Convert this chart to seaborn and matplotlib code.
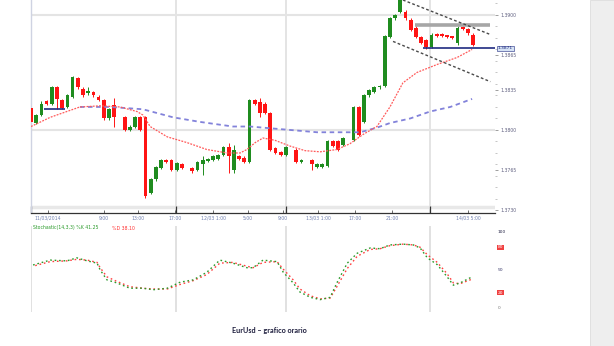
import numpy as np
import pandas as pd
import matplotlib
matplotlib.use('Agg')
import matplotlib.pyplot as plt
from matplotlib.patches import Rectangle
import seaborn as sns


# ── Data (hourly EurUsd candles, slot index = hour) ───────────────────────────

hours = [0, 1, 2, 3, 4, 5, 6, 7, 8, 9, 10, 11, 12, 13, 14, 15, 16,
         18, 19, 20, 21, 22, 23, 24, 25, 26, 27, 28, 29,
         31, 32, 33, 34, 35, 36, 37, 38, 39, 40, 41, 42, 43, 44, 45, 46, 47, 48, 49,
         51, 52, 54, 55, 56, 57, 58, 59, 60,
         62, 63, 64, 65, 66, 67, 68, 69, 70, 71, 72, 73, 74, 75, 76, 77, 78, 79,
         80, 81, 82, 83, 84, 85]

open_ = [1.3819, 1.3806, 1.3813, 1.3825, 1.3823, 1.3837, 1.3826, 1.3820, 1.3829, 1.3845,
         1.3836, 1.3832, 1.3833, 1.3829, 1.3826, 1.3810, 1.3822, 1.3811, 1.3800, 1.3803,
         1.3811, 1.3811, 1.3745, 1.3757, 1.3767, 1.3774, 1.3774, 1.3765, 1.3770, 1.3767,
         1.3765, 1.3770, 1.3773, 1.3774, 1.3775, 1.3778, 1.3785, 1.3765, 1.3777, 1.3776,
         1.3772, 1.3826, 1.3824, 1.3823, 1.3815, 1.3784, 1.3781, 1.3778, 1.3783, 1.3772,
         1.3774, 1.3768, 1.3768, 1.3769, 1.3790, 1.3790, 1.3787, 1.3791, 1.3820, 1.3807,
         1.3830, 1.3833, 1.3837, 1.3838, 1.3881, 1.3897, 1.3903, 1.3903, 1.3896, 1.3889,
         1.3881, 1.3878, 1.3872, 1.3883, 1.3883, 1.3882, 1.3881, 1.3876, 1.3889, 1.3888,
         1.3883]

close = [1.3807, 1.3813, 1.3823, 1.3823, 1.3837, 1.3827, 1.3819, 1.3830, 1.3846, 1.3837,
         1.3830, 1.3834, 1.3830, 1.3826, 1.3810, 1.3818, 1.3811, 1.3800, 1.3803, 1.3811,
         1.3800, 1.3743, 1.3757, 1.3768, 1.3774, 1.3772, 1.3765, 1.3771, 1.3767, 1.3764,
         1.3772, 1.3774, 1.3775, 1.3777, 1.3778, 1.3785, 1.3777, 1.3783, 1.3775, 1.3772,
         1.3826, 1.3823, 1.3815, 1.3815, 1.3783, 1.3780, 1.3778, 1.3785, 1.3772, 1.3774,
         1.3770, 1.3770, 1.3770, 1.3790, 1.3786, 1.3783, 1.3793, 1.3820, 1.3796, 1.3830,
         1.3835, 1.3837, 1.3838, 1.3882, 1.3897, 1.3900, 1.3915, 1.3897, 1.3887, 1.3881,
         1.3876, 1.3872, 1.3883, 1.3882, 1.3882, 1.3881, 1.3880, 1.3889, 1.3888, 1.3884,
         1.3874]

high = [1.3820, 1.3814, 1.3825, 1.3826, 1.3838, 1.3838, 1.3827, 1.3831, 1.3847, 1.3846,
        1.3837, 1.3837, 1.3834, 1.3830, 1.3827, 1.3819, 1.3828, 1.3812, 1.3804, 1.3812,
        1.3812, 1.3812, 1.3758, 1.3769, 1.3775, 1.3775, 1.3775, 1.3772, 1.3771, 1.3768,
        1.3773, 1.3777, 1.3776, 1.3778, 1.3779, 1.3786, 1.3789, 1.3787, 1.3778, 1.3777,
        1.3827, 1.3827, 1.3828, 1.3824, 1.3816, 1.3785, 1.3782, 1.3786, 1.3784, 1.3775,
        1.3775, 1.3771, 1.3771, 1.3791, 1.3791, 1.3791, 1.3794, 1.3821, 1.3821, 1.3831,
        1.3836, 1.3838, 1.3839, 1.3883, 1.3898, 1.3901, 1.3920, 1.3904, 1.3897, 1.3890,
        1.3882, 1.3879, 1.3884, 1.3884, 1.3884, 1.3883, 1.3882, 1.3890, 1.3890, 1.3889,
        1.3884]

low = [1.3805, 1.3805, 1.3812, 1.3822, 1.3822, 1.3818, 1.3818, 1.3819, 1.3828, 1.3836,
       1.3829, 1.3830, 1.3829, 1.3825, 1.3809, 1.3809, 1.3803, 1.3799, 1.3799, 1.3802,
       1.3799, 1.3741, 1.3744, 1.3756, 1.3766, 1.3771, 1.3764, 1.3764, 1.3766, 1.3763,
       1.3764, 1.3761, 1.3772, 1.3773, 1.3774, 1.3777, 1.3763, 1.3763, 1.3774, 1.3771,
       1.3771, 1.3822, 1.3811, 1.3814, 1.3782, 1.3779, 1.3777, 1.3777, 1.3771, 1.3771,
       1.3765, 1.3767, 1.3767, 1.3768, 1.3785, 1.3782, 1.3786, 1.3790, 1.3795, 1.3806,
       1.3829, 1.3832, 1.3836, 1.3837, 1.3880, 1.3896, 1.3902, 1.3896, 1.3886, 1.3880,
       1.3875, 1.3870, 1.3871, 1.3881, 1.3881, 1.3880, 1.3879, 1.3874, 1.3887, 1.3883,
       1.3873]

# moving averages
ma_fast_t = [0, 3.7, 9.4, 13.3, 17.1, 20.4, 21.5, 22.9, 26.2, 30, 33.8, 37.7, 40.2, 41.5,
             43.1, 44.6, 46.9, 49.8, 52.7, 55.6, 58.8, 61.3, 63.8, 66.5, 69, 71.5, 74.2,
             78.1, 81.9, 84.8]
ma_fast = [1.3803, 1.3811, 1.3820, 1.3821, 1.3820, 1.3816, 1.3813, 1.3803, 1.3794, 1.3789,
           1.3783, 1.3780, 1.3780, 1.3783, 1.3789, 1.3793, 1.3791, 1.3786, 1.3782, 1.3781,
           1.3783, 1.3788, 1.3796, 1.3803, 1.3820, 1.3841, 1.3850, 1.3857, 1.3863, 1.3870]

ma_slow_t = [9.4, 15.2, 21.5, 27.3, 32.5, 38.8, 42.1, 49.8, 55, 63.3, 66.5, 69, 72.9,
             76.7, 80.6, 84.8]
ma_slow = [1.3820, 1.3820, 1.3818, 1.3811, 1.3807, 1.3803, 1.3803, 1.3800, 1.3798, 1.3798,
           1.3802, 1.3806, 1.3810, 1.3816, 1.3820, 1.3827]

# drawn levels / channel
support_old = [1.3818, 2.5, 6.5]
resistance = [1.3891, 73.8, 88.3]
support = [1.3871, 75.4, 89.5]
chan_up_t, chan_up = [71.5, 88.3], [1.3913, 1.3883]
chan_dn_t, chan_dn = [69.6, 88.3], [1.3877, 1.3842]

# stochastic oscillator
stoch_t = [0.4, 3.7, 6.9, 8.8, 10.8, 12.7, 13.3, 14.6, 16.5, 19, 21.5, 23.5, 26.2, 28.7,
           31.2, 33.8, 36.3, 38.8, 41.5, 42.7, 44.6, 47.3, 48.5, 50.4, 51.7, 53.7, 55.6,
           57.5, 58.8, 60.8, 62.7, 65.2, 67.1, 69, 71.5, 73.5, 74.8, 76.2, 78.1, 80,
           81.2, 82.5, 84.8]
stoch_k = [56.6, 63, 62, 66, 62, 59, 50, 37, 33, 26, 26, 24, 26, 34, 37, 47, 63, 59, 53,
           53, 63, 61, 47, 33, 21, 14, 11, 14, 33, 59, 72, 79, 78, 83, 84, 83, 79, 66,
           57, 41, 30, 33, 41]
stoch_d = [55, 61, 62, 64, 63, 60, 53, 41, 35, 28, 26, 25, 25, 31, 36, 44, 59, 60, 55,
           53, 60, 61, 51, 37, 25, 16, 12, 13, 28, 52, 68, 77, 78, 82, 84, 83, 80, 70,
           60, 45, 33, 32, 38]

day_lines = [0, 27.9, 49.0, 76.7]
time_ticks = [3.3, 14.0, 20.6, 27.7, 35.0, 41.7, 48.5, 55.2, 62.3, 69.4, 76.7, 84.0]
time_labels = ['11/03/2014', '9:00', '13:00', '17:00', '12/03 1:00', '5:00',
               '9:00', '13/03 1:00', '17:00', '21:00', '1:00', '14/03 5:00']
price_ticks = [1.3730, 1.3765, 1.3800, 1.3835, 1.3865, 1.3900]
stoch_levels = [100, 80, 50, 20, 0]

GREEN = '#1f8c1f'
RED = '#ff1414'


# ── Figure ────────────────────────────────────────────────────────────────────

sns.set_style('white')
plt.rcParams['font.family'] = ['DejaVu Sans']

W, H = 614, 346
fig = plt.figure(figsize=(W / 100, H / 100), dpi=100)
fig.patches.append(Rectangle((590 / W, 0), 24 / W, 1, transform=fig.transFigure,
                             facecolor='#eeeeee', edgecolor='#dcdcdc', lw=0.6))

ax = fig.add_axes([31 / W, 1 - 213 / H, 464 / W, 213 / H])
ax2 = fig.add_axes([31 / W, 1 - 312 / H, 464 / W, 86 / H])

# ── Price panel ───────────────────────────────────────────────────────────────
df = pd.DataFrame({'t': hours, 'o': open_, 'h': high, 'l': low, 'c': close})
cols = np.where(df.c >= df.o, GREEN, RED)
body_lo = np.minimum(df.o, df.c)
body_h = np.maximum(np.abs(df.c - df.o), 0.00015)

for x in day_lines[1:]:
    ax.axvline(x, color='#e2e2e2', lw=1.3, zorder=0)
for y in [1.3900, 1.3800]:
    ax.axhline(y, color='#e4e4e4', lw=1.5, zorder=0)
ax.axhline(1.3733, color='#e8e8e8', lw=2.5, zorder=0)

ax.vlines(df.t, df.l, df.h, colors=cols, lw=0.7, zorder=2)
ax.bar(df.t, body_h, bottom=body_lo, width=0.72, color=cols, linewidth=0, zorder=3)

sns.lineplot(x=ma_slow_t, y=ma_slow, ax=ax, color='#8282da', lw=1.3,
             linestyle=(0, (2.5, 2)), zorder=4)
sns.lineplot(x=ma_fast_t, y=ma_fast, ax=ax, color='#ff5a5a', lw=0.9,
             linestyle=(0, (1.5, 1)), zorder=4)

ax.hlines(support_old[0], support_old[1], support_old[2], color='#1f2a80', lw=1.2, zorder=5)
ax.hlines(resistance[0], resistance[1], resistance[2], color='#a6a6a6', lw=2.6, zorder=5)
ax.hlines(support[0], support[1], support[2], color='#1f2a80', lw=1.2, zorder=5)
ax.plot(chan_up_t, chan_up, color='#4a4a4a', lw=1.0, ls=(0, (2, 1.6)), zorder=5)
ax.plot(chan_dn_t, chan_dn, color='#4a4a4a', lw=1.0, ls=(0, (2, 1.6)), zorder=5)

ax.set_xlim(0, 89.2)
ax.set_ylim(1.37278, 1.39130)

for s in ['top', 'right']:
    ax.spines[s].set_visible(False)
ax.spines['left'].set_color('#cfd3e2')
ax.spines['left'].set_linewidth(1.0)
ax.spines['bottom'].set_color('#333333')
ax.spines['bottom'].set_linewidth(0.9)

ax.set_xticks(day_lines)
ax.set_xticklabels([])
ax.set_xticks(time_ticks, time_labels, minor=True)
ax.tick_params(axis='x', which='major', direction='in', length=5, width=0.9,
               color='#333333', bottom=True)
ax.tick_params(axis='x', which='minor', direction='in', length=2.5, width=0.6,
               color='#555555', labelsize=3.3, labelcolor='#7080b0', pad=2, bottom=True)

ax.yaxis.tick_right()
ax.set_yticks(price_ticks, [f'{p:.4f}' for p in price_ticks])
ax.set_yticks(np.arange(1.3740, 1.3911, 0.0010), minor=True)
ax.tick_params(axis='y', which='major', length=2.5, width=0.5, color='#777777',
               labelsize=3.3, labelcolor='#606080', pad=1.5, right=True)
ax.tick_params(axis='y', which='minor', length=1.5, width=0.4, color='#999999', right=True)
ax.set_xlabel('')
ax.set_ylabel('')
ax.text(1.006, support[0], f'{support[0]:.4f}', transform=ax.get_yaxis_transform(),
        fontsize=3.2, color='#1f2a80', va='center', ha='left', zorder=6,
        bbox=dict(boxstyle='square,pad=0.15', fc='#d5e2f4', ec='#1f2a80', lw=0.4))

# ── Stochastic panel ──────────────────────────────────────────────────────────
for x in day_lines:
    ax2.axvline(x, color='#dedede', lw=1.3, zorder=0)
sns.lineplot(x=stoch_t, y=stoch_d, ax=ax2, color='#ff4040', lw=1.0,
             linestyle=(1.6, (1.2, 2.0)), zorder=3)
sns.lineplot(x=stoch_t, y=stoch_k, ax=ax2, color='#2a9a2a', lw=1.0,
             linestyle=(0, (1.2, 2.0)), zorder=3)
ax2.set_xlim(0, 89.2)
ax2.set_ylim(-5.3, 107.9)
ax2.set_xticks([])
ax2.set_yticks([])
ax2.set_xlabel('')
ax2.set_ylabel('')
for s in ax2.spines.values():
    s.set_visible(False)

lvl_style = {
    100: dict(color='#222244'),
    80: dict(color='white', bbox=dict(boxstyle='square,pad=0.15', fc='#f04040', ec='none')),
    50: dict(color='#333366'),
    20: dict(color='white', bbox=dict(boxstyle='square,pad=0.15', fc='#f04040', ec='none')),
    0: dict(color='#777777'),
}
for lv in stoch_levels:
    ax2.text(1.006, lv, str(lv), transform=ax2.get_yaxis_transform(), fontsize=3.2,
             va='center', ha='left', **lvl_style[lv])

fig.text(33 / W, 1 - 228 / H, 'Stochastic(14,3,3) %K 41.25', color='#2a9a2a',
         fontsize=3.3, va='center', ha='left')
fig.text(112 / W, 1 - 228 / H, '%D 38.10', color='#ff3030', fontsize=3.3,
         va='center', ha='left')

fig.text(269 / W, 1 - 330 / H, 'EurUsd \u2013 grafico orario', color='#1a1a3a',
         fontsize=5.2, fontweight='bold', family=['Lato', 'DejaVu Sans'],
         ha='center', va='center')

fig.savefig('out.png', dpi=100)
